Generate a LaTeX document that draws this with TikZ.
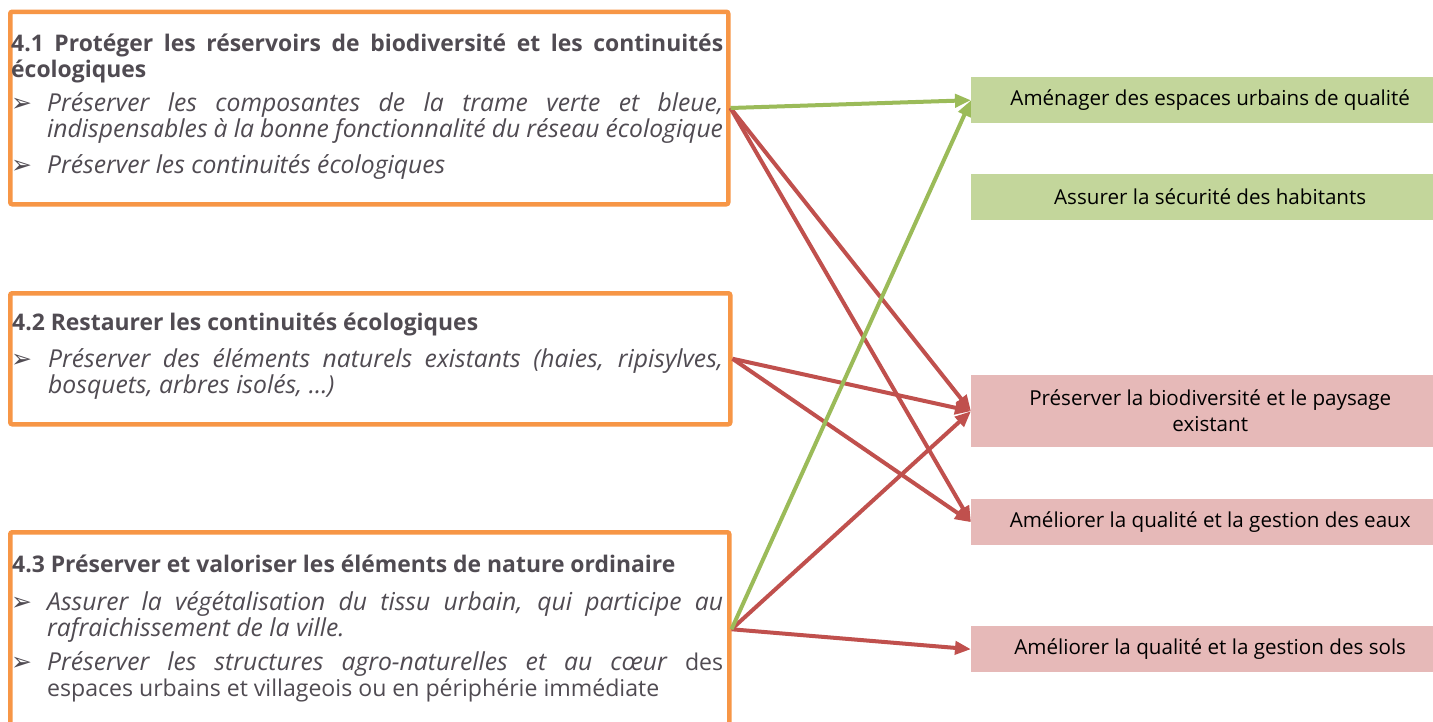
\documentclass[tikz,border=0pt]{standalone}
\usepackage{fontspec}
\setmainfont{Open Sans}
\newfontfamily\bulletfont{DejaVu Sans}
\usetikzlibrary{arrows.meta}
\definecolor{boxorange}{HTML}{F79646}
\definecolor{arrgreen}{HTML}{9BBB59}
\definecolor{arrred}{HTML}{C0504D}
\definecolor{fillgreen}{HTML}{C3D69B}
\definecolor{fillpink}{HTML}{E6B9B8}
\definecolor{txtgrey}{RGB}{80,75,82}
\newcommand{\jpar}[2]{\parbox[t]{#1}{\hyphenpenalty=10000\exhyphenpenalty=10000\parfillskip=0pt plus 1fil\relax #2}}
\newcommand{\uprt}{\fontsize{23.1}{26}\selectfont\upshape}
\begin{document}
\begin{tikzpicture}[x=1pt,y=-1pt,
  objbox/.style={draw=boxorange,line width=4.5pt,rounded corners=2pt,inner sep=0pt,anchor=north west},
  headtxt/.style={anchor=base west,inner sep=0pt,text=txtgrey,font=\fontsize{22.9}{26}\selectfont\bfseries},
  itemtxt/.style={anchor=base west,inner sep=0pt,text=txtgrey,font=\fontsize{24.7}{26}\selectfont\itshape},
  bullet/.style={anchor=base west,inner sep=0pt,text=txtgrey,font=\bulletfont\fontsize{25}{26}\selectfont},
  resbox/.style={anchor=north west,inner sep=0pt,minimum width=478pt,align=center,text=black,font=\fontsize{20.6}{26}\selectfont},
  greenbox/.style={resbox,fill=fillgreen},
  pinkbox/.style={resbox,fill=fillpink},
  conn/.style={line width=4pt,-{Triangle[length=16pt,width=13pt]}},
  gconn/.style={conn,draw=arrgreen},
  rconn/.style={conn,draw=arrred}]
\useasboundingbox (0,0) rectangle (1433,721);
\fill[white] (0,0) rectangle (1433,721);

% left objective boxes
\node[objbox,minimum width=718pt,minimum height=192.5pt] (b41) at (8,9.5) {};
\node[objbox,minimum width=720pt,minimum height=131pt] (b42) at (8,291) {};
\node[objbox,minimum width=719pt,minimum height=194pt] (b43) at (8,530) {};

% box 4.1 text
\node[headtxt] (h41) at (11,51) {\jpar{712pt}{4.1 Protéger les réservoirs de biodiversité et les continuités\linebreak écologiques}};
\node[bullet] (u411) at (11,111) {➢};
\node[itemtxt] (t411) at (47,111) {\jpar{676pt}{Préserver les composantes de la trame verte et bleue,\linebreak indispensables à la bonne fonctionnalité du réseau écologique}};
\node[bullet] (u412) at (11,173) {➢};
\node[itemtxt] (t412) at (47,173) {Préserver les continuités écologiques};

% box 4.2 text
\node[headtxt] (h42) at (12,330) {4.2 Restaurer les continuités écologiques};
\node[bullet] (u421) at (11,367) {➢};
\node[itemtxt] (t421) at (48,367) {\jpar{675pt}{Préserver des éléments naturels existants (haies, ripisylves,\linebreak bosquets, arbres isolés, …)}};

% box 4.3 text
\node[headtxt] (h43) at (12,572) {4.3 Préserver et valoriser les éléments de nature ordinaire};
\node[bullet] (u431) at (11,610) {➢};
\node[itemtxt] (t431) at (47,610) {\jpar{676pt}{Assurer la végétalisation du tissu urbain, qui participe au\linebreak rafraichissement de la ville.}};
\node[bullet] (u432) at (11,670) {➢};
\node[itemtxt] (t432) at (47,670) {\jpar{676pt}{Préserver les structures agro-naturelles et au cœur {\uprt des\linebreak espaces urbains et villageois ou en périphérie immédiate}}};

% right result boxes
\node[greenbox,minimum height=46pt] (r1) at (971,77) {Aménager des espaces urbains de qualité};
\node[greenbox,minimum height=46pt] (r2) at (971,174) {Assurer la sécurité des habitants};
\node[pinkbox,minimum height=72pt] (r3) at (971,375) {Préserver la biodiversité et le paysage\\existant};
\node[pinkbox,minimum height=46pt] (r4) at (971,499) {Améliorer la qualité et la gestion des eaux};
\node[pinkbox,minimum height=46pt] (r5) at (971,626) {Améliorer la qualité et la gestion des sols};

% connectors
\draw[rconn] (b41.east) -- (r3.west);
\draw[rconn] (b41.east) -- (r4.west);
\draw[rconn] (b42.east) -- (r3.west);
\draw[rconn] (b42.east) -- (r4.west);
\draw[rconn] (b43.east) -- (r3.west);
\draw[rconn] (b43.east) -- (r5.west);
\draw[gconn] (b41.east) -- (r1.west);
\draw[gconn] (b43.east) -- (r1.west);
\end{tikzpicture}
\end{document}
